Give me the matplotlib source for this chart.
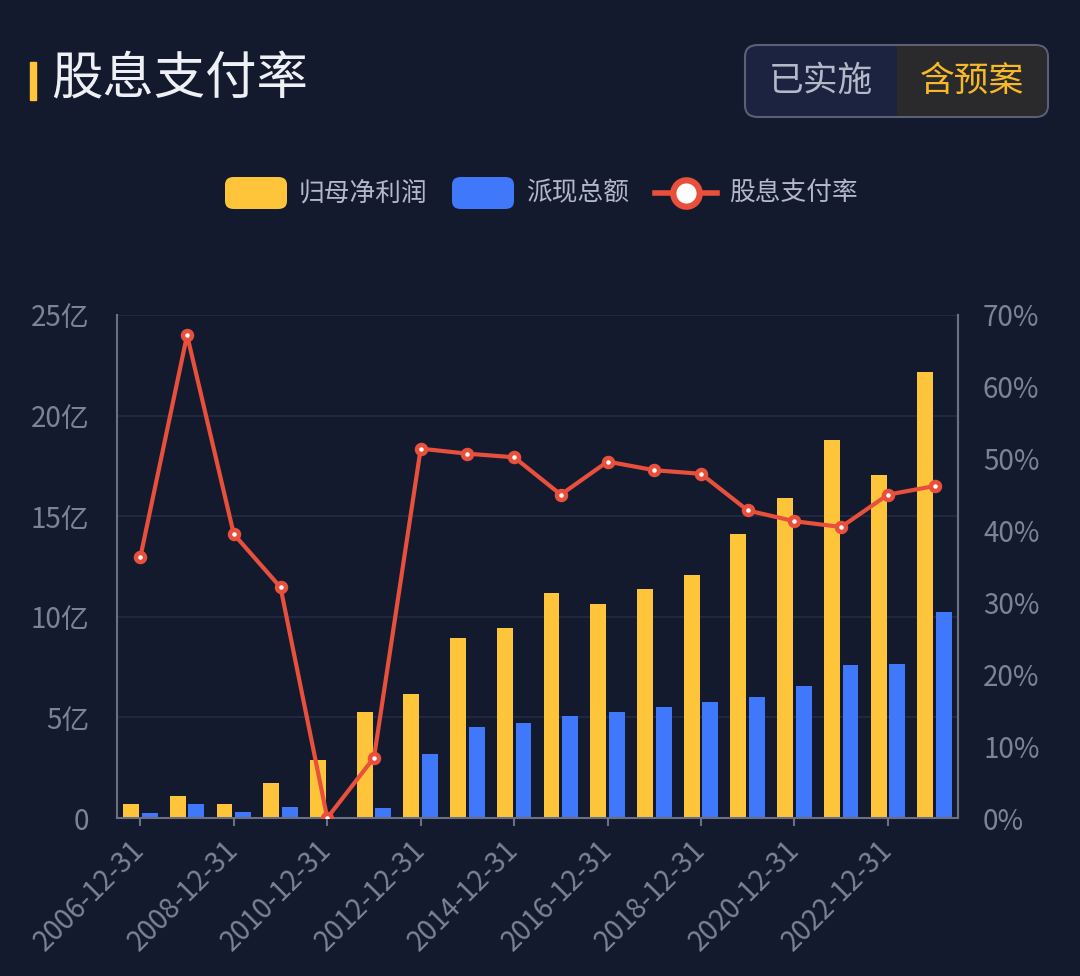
import matplotlib
matplotlib.use("Agg")
import matplotlib.pyplot as plt
from matplotlib.patches import FancyBboxPatch, Rectangle
from matplotlib.lines import Line2D
import numpy as np

plt.rcParams['font.family'] = ['Noto Sans CJK SC', 'DejaVu Sans']

years = [str(y) for y in range(2006, 2024)]
dates = [y + "-12-31" for y in years]
profit = [0.71, 1.07, 0.71, 1.76, 2.88, 5.25, 6.15, 8.93, 9.43, 11.2, 10.62, 11.4, 12.1, 14.12, 15.92, 18.8, 17.04, 22.18]
dividend = [0.27, 0.71, 0.30, 0.57, 0.0, 0.48, 3.17, 4.53, 4.73, 5.05, 5.25, 5.51, 5.78, 6.03, 6.56, 7.61, 7.66, 10.23]
payout = [36.3, 67.2, 39.5, 32.1, 0.0, 8.4, 51.4, 50.7, 50.2, 45.0, 49.6, 48.4, 47.9, 42.8, 41.3, 40.5, 45.0, 46.2]
left_ticks = [0, 5, 10, 15, 20, 25]
left_labels = ["0", "5亿", "10亿", "15亿", "20亿", "25亿"]
right_ticks = [0, 10, 20, 30, 40, 50, 60, 70]
right_labels = [f"{v}%" for v in right_ticks]

BG = "#131a2e"
YELLOW = "#fec53a"
BLUE = "#3f78fb"
RED = "#e8503c"
TICK = "#7d8396"
SPINE = "#6a7082"
GRID = "#232b45"

W, H = 1080, 976
fig = plt.figure(figsize=(W / 100, H / 100), dpi=100, facecolor=BG)

ax = fig.add_axes([117 / W, 1 - 818 / H, (958 - 117) / W, (818 - 315) / H])
ax.set_facecolor(BG)
x = np.arange(len(years))
bw = 0.34
ax.bar(x - 0.2, profit, width=bw, color=YELLOW, zorder=2)
ax.bar(x + 0.2, dividend, width=bw, color=BLUE, zorder=2)
ax.set_xlim(-0.5, len(years) - 0.5)
ax.set_ylim(0, 25)
ax.set_yticks(left_ticks)
ax.set_yticklabels(left_labels)
ax.yaxis.grid(True, color=GRID, lw=1.2, zorder=0)
ax.set_axisbelow(True)
ax.spines['top'].set_visible(False)
for s in ['left', 'bottom', 'right']:
    ax.spines[s].set_color(SPINE)
    ax.spines[s].set_linewidth(1.5)
ax.tick_params(axis='y', length=0, pad=20, labelsize=20, labelcolor=TICK)
ax.set_xticks(x[::2])
ax.set_xticklabels(dates[::2], rotation=45, ha='right', va='center', rotation_mode='anchor')
ax.tick_params(axis='x', length=6, width=1.5, color=SPINE, pad=14, labelsize=20, labelcolor=TICK)

ax2 = ax.twinx()
ax2.set_ylim(0, 70)
ax2.plot(x, payout, color=RED, lw=3, marker='o', markersize=6.5,
         markerfacecolor='white', markeredgecolor=RED, markeredgewidth=3.2, zorder=5)
ax2.set_yticks(right_ticks)
ax2.set_yticklabels(right_labels)
ax2.tick_params(axis='y', length=0, pad=18, labelsize=20, labelcolor=TICK)
for s in ['top', 'left', 'bottom']:
    ax2.spines[s].set_visible(False)
ax2.spines['right'].set_color(SPINE)
ax2.spines['right'].set_linewidth(1.5)

# Title
fig.patches.append(Rectangle((30 / W, 1 - 100 / H), 6 / W, 38 / H, transform=fig.transFigure,
                             color=YELLOW, zorder=3))
fig.text(51 / W, 1 - 80 / H, "股息支付率", fontsize=37, color="#eef0f5", va='center', ha='left',
         fontweight='medium')

# Toggle button
fig.patches.append(FancyBboxPatch((745 / W, 1 - 117 / H), (1048 - 745) / W, 72 / H,
                                  boxstyle="round,pad=0,rounding_size=0.012",
                                  transform=fig.transFigure, facecolor="#1c2340",
                                  edgecolor="#5b6175", lw=1.5, zorder=1))
fig.patches.append(FancyBboxPatch((897 / W, 1 - 116 / H), (1047 - 897) / W, 70 / H,
                                  boxstyle="round,pad=0,rounding_size=0.011",
                                  transform=fig.transFigure, facecolor="#2a2a2d",
                                  edgecolor="none", zorder=2))
fig.patches.append(Rectangle((897 / W, 1 - 116 / H), 15 / W, 70 / H, transform=fig.transFigure,
                             facecolor="#2a2a2d", edgecolor="none", zorder=2))
fig.text(821 / W, 1 - 81 / H, "已实施", fontsize=25, color="#b4b9c8", ha='center', va='center')
fig.text(972 / W, 1 - 81 / H, "含预案", fontsize=25, color="#f7b928", ha='center', va='center')

# Legend
ly = 1 - 193 / H
for (x0, col) in [(225, YELLOW), (452, BLUE)]:
    fig.patches.append(FancyBboxPatch((x0 / W, ly - 16 / H), 62 / W, 32 / H,
                                      boxstyle="round,pad=0,rounding_size=0.008",
                                      transform=fig.transFigure, facecolor=col,
                                      edgecolor='none'))
fig.lines.append(Line2D([655 / W, 717 / W], [ly, ly], transform=fig.transFigure, color=RED, lw=4))
fig.lines.append(Line2D([686 / W], [ly], transform=fig.transFigure, marker='o', markersize=19,
                        markerfacecolor='white', markeredgecolor=RED, markeredgewidth=4.5))
legend_texts = [(299, "归母净利润"), (526, "派现总额"), (729, "股息支付率")]
for x0, t in legend_texts:
    fig.text(x0 / W, ly, t, fontsize=18.5, color="#b4b9c8", ha='left', va='center')

fig.savefig("out.png", dpi=100, facecolor=BG)
